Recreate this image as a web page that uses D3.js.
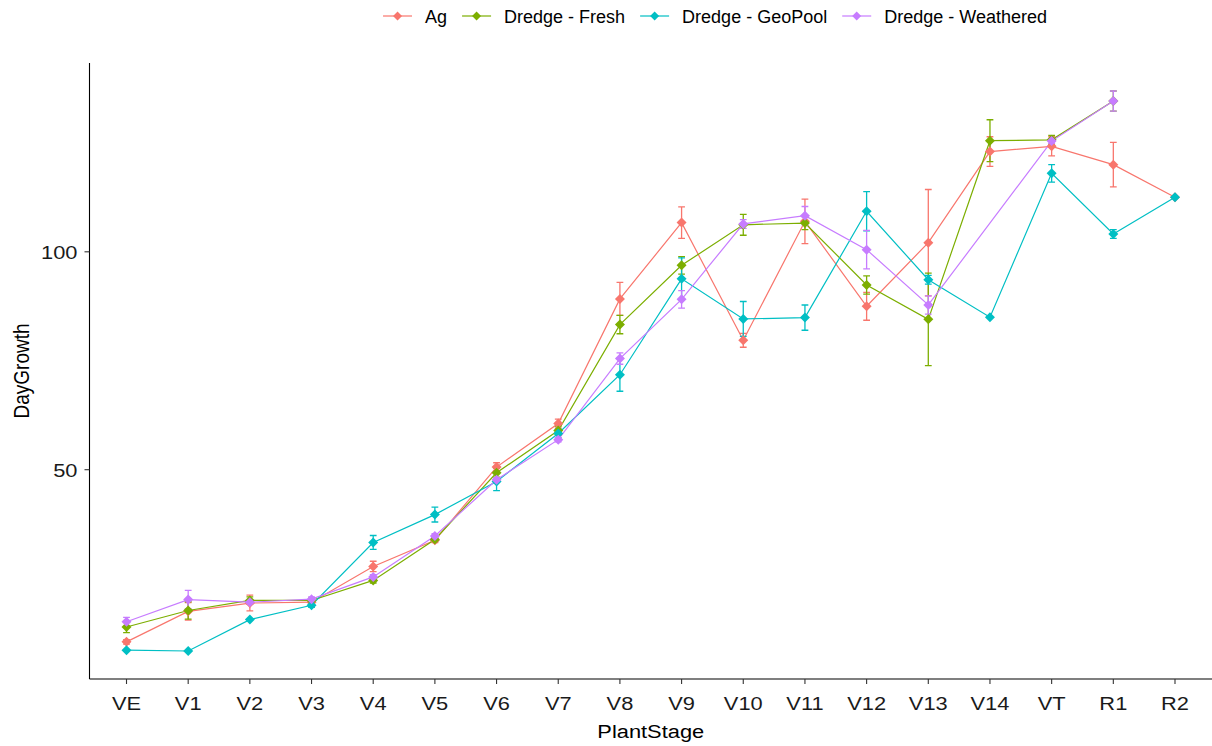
<!DOCTYPE html>
<html>
<head>
<meta charset="utf-8">
<script src="https://cdn.jsdelivr.net/npm/d3@7"></script>
<style>
  body { margin: 0; background: #fff; }
  svg { display: block; font-family: "Liberation Sans", Arial, sans-serif; }
</style>
</head>
<body>
<svg id="chart" width="1212" height="746"></svg>
<script>
// Plant stages on the x axis
const stages = ["VE", "V1", "V2", "V3", "V4", "V5", "V6", "V7", "V8", "V9",
                "V10", "V11", "V12", "V13", "V14", "VT", "R1", "R2"];

// Treatment groups and their colours
const groups = ["Ag", "Dredge - Fresh", "Dredge - GeoPool", "Dredge - Weathered"];
const groupColors = ["#F8766D", "#7CAE00", "#00BFC4", "#C77CFF"];

// Mean day of growth per stage (null = stage not reached)
const agMean        = [10.5, 17.5, 19.4, 19.6, 27.8, 33.8, 50.6, 60.6, 89.2, 106.7, 79.7, 107.0, 87.5, 102.1, 123.0, 124.2, 120.0, 112.5];
const freshMean     = [13.9, 17.7, 20.0, 20.0, 24.6, 34.0, 49.3, 59.0, 83.3, 96.9, 106.2, 106.6, 92.4, 84.5, 125.5, 125.7, 134.6, null];
const geoPoolMean   = [8.6, 8.4, 15.6, 18.9, 33.3, 39.7, 47.3, 58.3, 71.8, 93.8, 84.6, 84.9, 109.3, 93.6, 85.0, 118.0, 104.1, 112.5];
const weatheredMean = [15.1, 20.2, 19.6, 20.3, 25.4, 34.8, 47.7, 56.9, 75.5, 89.1, 106.4, 108.3, 100.5, 87.8, null, 125.4, 134.6, null];

// Standard errors for the error bars
const agSE        = [0.5, 2.0, 1.8, 0.5, 1.2, 0.5, 1.0, 1.0, 3.8, 3.6, 1.6, 5.1, 3.2, 12.2, 3.4, 2.2, 5.1, 0];
const freshSE     = [1.3, 2.0, 0.8, 0.5, 0.6, 0.5, 1.0, 1.0, 2.1, 2.0, 2.4, 1.5, 2.1, 10.6, 4.8, 1.0, 2.3, null];
const geoPoolSE   = [0, 0, 0, 0.5, 1.6, 1.7, 2.1, 1.0, 3.8, 4.8, 4.0, 2.9, 4.5, 1.0, 0, 2.0, 1.0, 0];
const weatheredSE = [1.0, 2.1, 0.5, 0.5, 0.5, 0.5, 0.5, 0.5, 1.3, 2.0, 1.0, 2.1, 4.4, 2.1, null, 0.5, 2.3, null];

const yTicks = [50, 100];
const xTitle = "PlantStage";
const yTitle = "DayGrowth";

const means = [agMean, freshMean, geoPoolMean, weatheredMean];
const ses = [agSE, freshSE, geoPoolSE, weatheredSE];

const series = groups.map((g, gi) => ({
  name: g,
  color: groupColors[gi],
  points: stages.map((s, i) => ({ stage: s, mean: means[gi][i], se: ses[gi][i] || 0 }))
                .filter(p => p.mean !== null)
}));

const W = 1212, H = 746;
const plot = { left: 89.5, right: 1212, top: 63, bottom: 679 };
const textStretch = 1.15;

const svg = d3.select("#chart");

const x = d3.scalePoint().domain(stages).range([plot.left, plot.right]).padding(0.6);

// y range from the error-bar extents with a 5% expansion on each side
const all = series.flatMap(s => s.points);
const lo = d3.min(all, p => p.mean - p.se);
const hi = d3.max(all, p => p.mean + p.se);
const pad = (hi - lo) * 0.05;
const y = d3.scaleLinear().domain([lo - pad, hi + pad]).range([plot.bottom, plot.top]);

const diamond = r => `M0,${-r}L${r},0L0,${r}L${-r},0Z`;

// Lines
const line = d3.line().x(d => x(d.stage)).y(d => y(d.mean));
svg.append("g").selectAll("path").data(series).join("path")
  .attr("d", s => line(s.points))
  .attr("fill", "none")
  .attr("stroke", s => s.color)
  .attr("stroke-width", 1.2);

// Error bars
const capHalf = x.step() * 0.055;
const eb = svg.append("g").selectAll("g").data(series).join("g")
  .attr("stroke", s => s.color)
  .attr("stroke-width", 1.3)
  .attr("fill", "none");
eb.selectAll("path").data(s => s.points.filter(p => p.se > 0)).join("path")
  .attr("d", p => {
    const cx = x(p.stage), y1 = y(p.mean + p.se), y2 = y(p.mean - p.se);
    return `M${cx - capHalf},${y1}H${cx + capHalf}M${cx},${y1}V${y2}M${cx - capHalf},${y2}H${cx + capHalf}`;
  });

// Points
const pts = svg.append("g").selectAll("g").data(series).join("g").attr("fill", s => s.color);
pts.selectAll("path").data(s => s.points).join("path")
  .attr("transform", p => `translate(${x(p.stage)},${y(p.mean)})`)
  .attr("d", diamond(5))
  .attr("stroke", s => "none");

// Axes
const axisColor = "#000";
const xAxis = svg.append("g");
xAxis.append("line").attr("x1", plot.left).attr("x2", plot.right)
  .attr("y1", plot.bottom).attr("y2", plot.bottom)
  .attr("stroke", axisColor).attr("stroke-width", 1.1);
const xt = xAxis.selectAll("g.tick").data(stages).join("g").attr("class", "tick");
xt.append("line").attr("x1", d => x(d)).attr("x2", d => x(d))
  .attr("y1", plot.bottom).attr("y2", plot.bottom + 5)
  .attr("stroke", "#333").attr("stroke-width", 1.1);
xt.append("text")
  .attr("transform", d => `translate(${x(d)},${plot.bottom + 31}) scale(${textStretch},1)`)
  .attr("text-anchor", "middle")
  .attr("font-size", 19)
  .attr("fill", "#1a1a1a")
  .text(d => d);

const yAxis = svg.append("g");
yAxis.append("line").attr("x1", plot.left).attr("x2", plot.left)
  .attr("y1", plot.top).attr("y2", plot.bottom)
  .attr("stroke", axisColor).attr("stroke-width", 1.1);
const yt = yAxis.selectAll("g.tick").data(yTicks).join("g").attr("class", "tick");
yt.append("line").attr("x1", plot.left - 5).attr("x2", plot.left)
  .attr("y1", d => y(d)).attr("y2", d => y(d))
  .attr("stroke", "#333").attr("stroke-width", 1.1);
yt.append("text")
  .attr("transform", d => `translate(${plot.left - 12},${y(d) + 7}) scale(${textStretch},1)`)
  .attr("text-anchor", "end")
  .attr("font-size", 19)
  .attr("fill", "#1a1a1a")
  .text(d => d);

// Axis titles
svg.append("text")
  .attr("transform", `translate(${(plot.left + plot.right) / 2},${H - 8}) scale(${textStretch},1)`)
  .attr("text-anchor", "middle")
  .attr("font-size", 19)
  .attr("fill", "#000")
  .text(xTitle);
svg.append("text")
  .attr("transform", `translate(29,${(plot.top + plot.bottom) / 2}) rotate(-90) scale(1,${textStretch})`)
  .attr("text-anchor", "middle")
  .attr("font-size", 19)
  .attr("fill", "#000")
  .text(yTitle);

// Legend along the top
const legend = svg.append("g").attr("font-size", 18);
const keyW = 29, keyGap = 13, itemGap = 15;
let lx = 0;
const items = legend.selectAll("g").data(series).join("g");
items.each(function (s) {
  const g = d3.select(this);
  g.append("line").attr("x1", 0).attr("x2", keyW).attr("y1", 0).attr("y2", 0)
    .attr("stroke", s.color).attr("stroke-width", 1.2);
  g.append("path").attr("transform", `translate(${keyW / 2},0)`).attr("d", diamond(4.5)).attr("fill", s.color);
  const t = g.append("text").attr("x", keyW + keyGap).attr("y", 6.5).attr("fill", "#000").text(s.name);
  const w = t.node().getComputedTextLength();
  g.attr("transform", `translate(${lx},0)`);
  lx += keyW + keyGap + w + itemGap;
});
const legendW = lx - itemGap;
legend.attr("transform", `translate(${(383 + 1047) / 2 - legendW / 2},16)`);
</script>
</body>
</html>
